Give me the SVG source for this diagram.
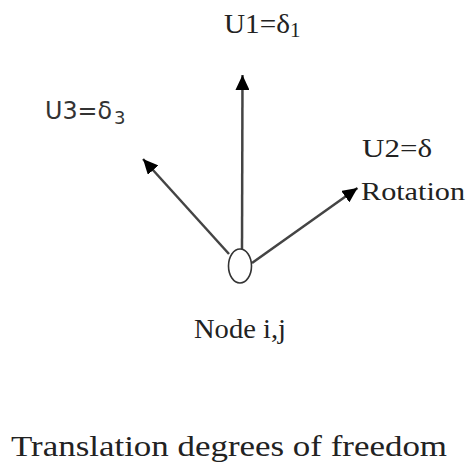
<svg xmlns="http://www.w3.org/2000/svg" width="467" height="463" viewBox="0 0 467 463">
<defs>
<marker id="ah" markerUnits="userSpaceOnUse" markerWidth="16" markerHeight="14" refX="15" refY="7" orient="auto">
<path d="M0,0 L15,7 L0,14 Z" fill="#000"/>
</marker>
<style>
.t{font-family:"Liberation Serif","Times New Roman",serif;fill:#222;}
.s{font-family:"DejaVu Sans","Liberation Sans",sans-serif;fill:#333;}
.c{stroke:#444;stroke-width:2.5;fill:none;}
</style>
</defs>
<rect width="467" height="463" fill="#fff"/>
<g id="connectors">
<line class="c" x1="242" y1="249" x2="242.5" y2="75" marker-end="url(#ah)"/>
<line class="c" x1="229" y1="254" x2="143" y2="159" marker-end="url(#ah)"/>
<line class="c" x1="252" y1="263" x2="357.5" y2="188" marker-end="url(#ah)"/>
</g>
<g id="node">
<ellipse cx="240" cy="266" rx="11.5" ry="17" fill="#fff" stroke="#333" stroke-width="1.6"/>
<text class="t" x="194" y="338" font-size="27" textLength="92" lengthAdjust="spacingAndGlyphs">Node i,j</text>
</g>
<g id="u1">
<text class="t" x="224" y="33" font-size="28" textLength="66" lengthAdjust="spacingAndGlyphs">U1=δ</text>
<text class="t" x="290" y="37" font-size="21">1</text>
</g>
<g id="u3">
<text class="s" x="45" y="119" font-size="25" textLength="67" lengthAdjust="spacingAndGlyphs">U3=δ</text>
<text class="s" x="114" y="124" font-size="18">3</text>
</g>
<g id="u2">
<text class="t" x="362" y="157" font-size="26" textLength="70" lengthAdjust="spacingAndGlyphs">U2=δ</text>
<text class="t" x="361" y="200" font-size="26" textLength="104" lengthAdjust="spacingAndGlyphs">Rotation</text>
</g>
<g id="caption">
<text class="t" x="11" y="456" font-size="30" textLength="436" lengthAdjust="spacingAndGlyphs">Translation degrees of freedom</text>
</g>
</svg>
